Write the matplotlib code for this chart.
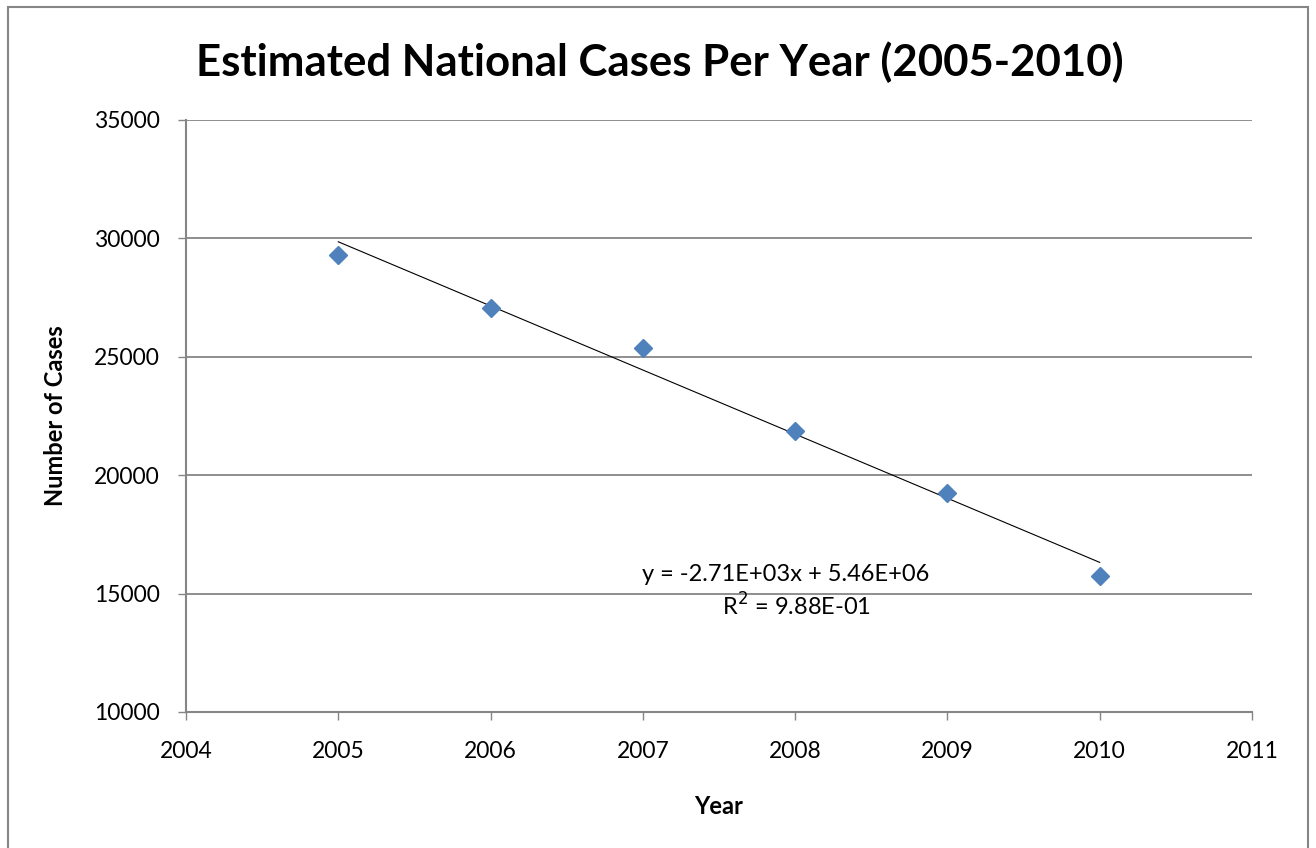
import matplotlib.pyplot as plt
from matplotlib.patches import Rectangle
import numpy as np

plt.rcParams['font.family'] = ['Lato', 'DejaVu Sans']

# Data
years = np.array([2005, 2006, 2007, 2008, 2009, 2010])
cases = np.array([29300, 27050, 25350, 21850, 19250, 15724])

x_ticks = [2004, 2005, 2006, 2007, 2008, 2009, 2010, 2011]
y_ticks = [10000, 15000, 20000, 25000, 30000, 35000]

# Linear trend line
slope, intercept = np.polyfit(years, cases, 1)
fit = slope * years + intercept
r2 = 1 - np.sum((cases - fit) ** 2) / np.sum((cases - cases.mean()) ** 2)

fig = plt.figure(figsize=(13.16, 8.48), dpi=100)
ax = fig.add_axes([0.1413, 0.1604, 0.8101, 0.6981])

grid_col = '#868686'
ax.set_xlim(2004, 2011)
ax.set_ylim(10000, 35000)
ax.set_xticks(x_ticks)
ax.set_yticks(y_ticks)
ax.yaxis.grid(True, color=grid_col, linewidth=1.3)
ax.set_axisbelow(True)

for side in ['top', 'right']:
    ax.spines[side].set_visible(False)
for side in ['left', 'bottom']:
    ax.spines[side].set_color(grid_col)
    ax.spines[side].set_linewidth(1.5)

ax.tick_params(axis='both', direction='out', length=6, width=1, color=grid_col,
               labelsize=16.5, labelcolor='black')
ax.tick_params(axis='x', pad=15)
ax.tick_params(axis='y', pad=13)

ax.plot(years, fit, color='black', linewidth=0.8, zorder=2)
ax.plot(years, cases, linestyle='none', marker='D', markersize=9,
        color='#4F81BD', markeredgecolor='#4F81BD', zorder=3)

eq = f"y = {slope:.2E}x + {intercept:.2E}".replace('+-', '-')
ax.text(2007.94, 15785, eq, fontsize=17, ha='center', va='center')
ax.text(2008.01, 14476, f"R$^2$ = {r2:.2E}", fontsize=17, ha='center', va='center')

ax.set_xlabel('Year', fontsize=17, fontweight='bold', labelpad=24)
ax.set_ylabel('Number of Cases', fontsize=17, fontweight='bold', labelpad=19)

fig.text(0.5015, 0.927, 'Estimated National Cases Per Year (2005-2010)',
         fontsize=31.5, fontweight='bold', ha='center', va='center')

# Outer chart border
fig.patches.append(Rectangle((8 / 1316, -0.05), 1300 / 1316, 1 - 7 / 848 + 0.05,
                             transform=fig.transFigure, fill=False,
                             edgecolor=grid_col, linewidth=1.5))

fig.savefig('out.png', dpi=100)
